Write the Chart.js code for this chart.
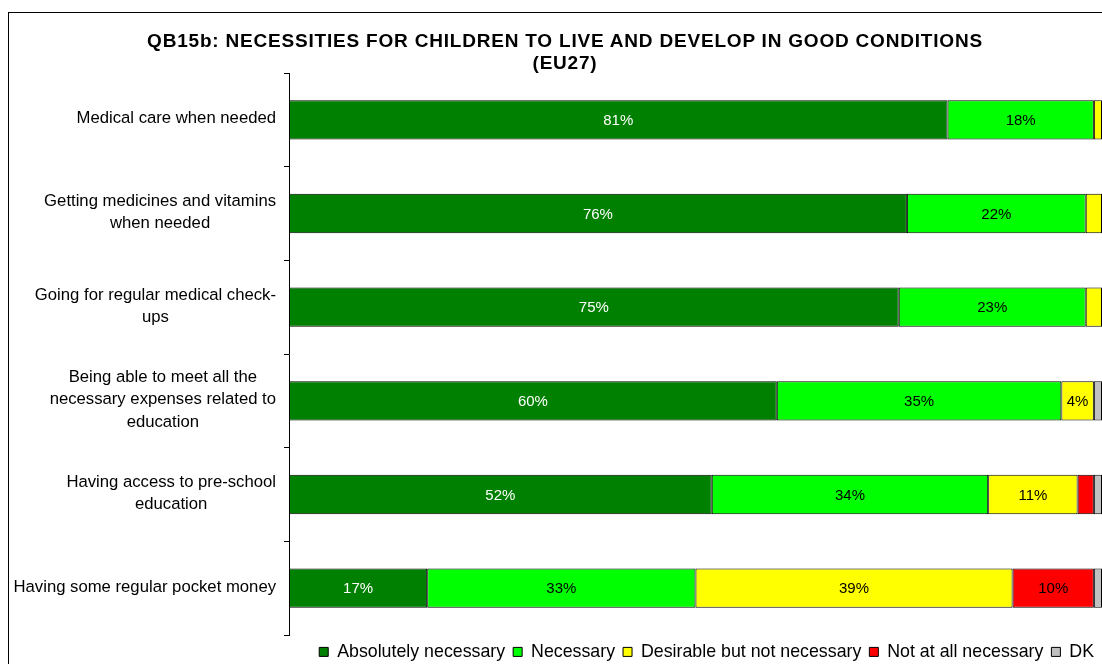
<!DOCTYPE html>
<html>
<head>
<meta charset="utf-8">
<script src="https://cdn.jsdelivr.net/npm/chart.js@4.4.1/dist/chart.umd.min.js"></script>
<style>
html, body { margin: 0; padding: 0; background: #fff; }
#wrap { position: relative; width: 1102px; height: 664px; overflow: hidden; }
#frame { position: absolute; left: 8px; top: 12px; width: 1200px; height: 800px; border-left: 1px solid #000; border-top: 1px solid #000; }
#title { position: absolute; left: 0; top: 30px; width: 1130px; text-align: center; font: bold 19px "Liberation Sans", Arial, sans-serif; letter-spacing: 0.8px; line-height: 22px; color: #000; }
#chart { position: absolute; left: 0; top: 0; }
</style>
</head>
<body>
<div id="wrap">
    <div id="frame"></div>
    <canvas id="chart" width="1102" height="664"></canvas>
    <div id="title">QB15b: NECESSITIES FOR CHILDREN TO LIVE AND DEVELOP IN GOOD CONDITIONS<br>(EU27)</div>
</div>
<script>
// categories, top to bottom
let categories = [
    ['Medical care when needed'],
    ['Getting medicines and vitamins', 'when needed'],
    ['Going for regular medical check-', 'ups'],
    ['Being able to meet all the', 'necessary expenses related to', 'education'],
    ['Having access to pre-school', 'education'],
    ['Having some regular pocket money']
];

// % values per answer
let absolutely_necessary = [81, 76, 75, 60, 52, 17];
let necessary = [18, 22, 23, 35, 34, 33];
let desirable = [1, 2, 2, 4, 11, 39];
let not_at_all = [0, 0, 0, 0, 2, 10];
let dont_know = [0, 0, 0, 1, 1, 1];

let series_labels = ['Absolutely necessary', 'Necessary', 'Desirable but not necessary', 'Not at all necessary', 'DK'];
let series_colors = ['#008000', '#00ff00', '#ffff00', '#ff0000', '#c0c0c0'];

let font_family = '"Liberation Sans", Arial, sans-serif';

// draws the % inside each segment (only the wide ones)
const valueLabels = {
    id: 'valueLabels',
    afterDatasetsDraw(chart) {
        let ctx = chart.ctx;
        ctx.save();
        ctx.font = '15px ' + font_family;
        ctx.textAlign = 'center';
        ctx.textBaseline = 'middle';
        chart.data.datasets.forEach(function (ds, i) {
            let meta = chart.getDatasetMeta(i);
            meta.data.forEach(function (bar, j) {
                let v = ds.data[j];
                if (!v || v < 4) return;
                let p = bar.getProps(['x', 'y', 'base'], true);
                ctx.fillStyle = i === 0 ? '#ffffff' : '#000000';
                ctx.fillText(v + '%', (p.x + p.base) / 2, p.y + 1);
            });
        });
        ctx.restore();
    }
};

// category labels: block right aligned, lines centered inside the block
const categoryLabels = {
    id: 'categoryLabels',
    afterDraw(chart) {
        let ctx = chart.ctx;
        let yScale = chart.scales.y;
        ctx.save();
        ctx.font = '16.7px ' + font_family;
        ctx.fillStyle = '#000';
        ctx.textAlign = 'center';
        ctx.textBaseline = 'middle';
        categories.forEach(function (lines, i) {
            let w = Math.max.apply(null, lines.map(t => ctx.measureText(t).width));
            let cx = yScale.right - 13 - w / 2;
            let cy = yScale.getPixelForValue(i) - 1;
            lines.forEach(function (t, k) {
                ctx.fillText(t, cx, cy + (k - (lines.length - 1) / 2) * 22.5);
            });
        });
        ctx.restore();
    }
};

// keep the legend strip at the bottom a fixed height
const legendHeight = {
    id: 'legendHeight',
    afterInit(chart) {
        let lg = chart.legend;
        if (!lg) return;
        let orig = lg.fit.bind(lg);
        lg.fit = function () {
            orig();
            this.height = 29;
        };
    }
};

let data_sets = [absolutely_necessary, necessary, desirable, not_at_all, dont_know].map(function (vals, i) {
    return {
        label: series_labels[i],
        data: vals,
        backgroundColor: series_colors[i],
        borderColor: '#000000',
        borderWidth: 1,
        borderSkipped: false,
        barPercentage: 0.42,
        categoryPercentage: 1
    };
});

let chart = new Chart(document.getElementById('chart'), {
    type: 'bar',
    data: {
        labels: categories,
        datasets: data_sets
    },
    options: {
        indexAxis: 'y',
        responsive: false,
        animation: false,
        layout: {
            padding: { top: 73, left: 0, right: 0, bottom: 0 }
        },
        scales: {
            x: {
                stacked: true,
                min: 0,
                max: 100,
                display: false
            },
            y: {
                stacked: true,
                offset: true,
                grid: {
                    drawOnChartArea: false,
                    offset: true,
                    tickLength: 5,
                    color: '#000',
                    tickColor: '#000'
                },
                border: { display: true, color: '#000', width: 1 },
                ticks: { display: false },
                afterFit: function (scale) { scale.width = 289; }
            }
        },
        plugins: {
            title: { display: false },
            tooltip: { enabled: false },
            legend: {
                position: 'bottom',
                align: 'end',
                labels: {
                    boxWidth: 9,
                    boxHeight: 9,
                    padding: 8,
                    color: '#000',
                    font: { size: 17.8, family: font_family }
                }
            }
        }
    },
    plugins: [valueLabels, categoryLabels, legendHeight]
});
</script>
</body>
</html>
